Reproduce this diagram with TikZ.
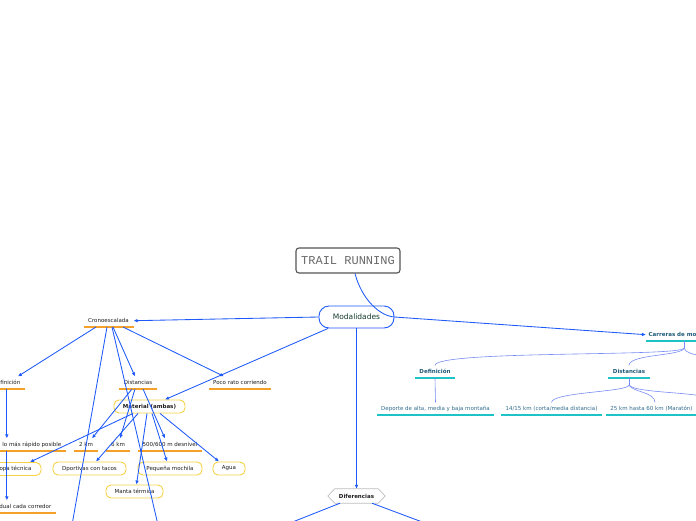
\documentclass[tikz,border=0pt]{standalone}
\usepackage{fontspec}
\setmainfont{DejaVu Sans}
\newfontfamily\trailmono{Liberation Mono}
\usetikzlibrary{arrows.meta,calc}
\definecolor{linkblue}{RGB}{30,90,250}
\definecolor{ulorange}{RGB}{245,160,40}
\definecolor{ulteal}{RGB}{30,195,200}
\definecolor{boxyellow}{RGB}{245,210,70}
\definecolor{rtext}{RGB}{30,90,120}
\definecolor{rleaf}{RGB}{50,110,140}
\definecolor{peri}{RGB}{120,140,245}
\definecolor{modgreen}{RGB}{20,60,45}
\definecolor{trailgray}{RGB}{85,85,85}
\definecolor{trailtext}{RGB}{105,105,105}
\definecolor{hexgray}{RGB}{190,190,190}
\definecolor{txt}{RGB}{30,30,30}
\tikzset{
 lab/.style={font=\fontsize{5.5}{6.5}\selectfont, text=txt, inner xsep=4.5pt, inner ysep=3.5pt, text height=4.1pt, text depth=1.1pt, anchor=south},
 ulo/.style={lab, append after command={(\tikzlastnode.south west) edge[draw=ulorange, line width=1.6pt] (\tikzlastnode.south east)}},
 ult/.style={lab, append after command={(\tikzlastnode.south west) edge[draw=ulteal, line width=1.6pt] (\tikzlastnode.south east)}},
 rhead/.style={ult, font=\fontsize{5.5}{6.5}\selectfont\bfseries, text=rtext},
 rleafst/.style={ult, text=rleaf},
 ybox/.style={draw=boxyellow, line width=0.9pt, rounded corners=5pt, minimum height=13pt, font=\fontsize{5.5}{6.5}\selectfont, text=txt, inner sep=0pt},
 arr/.style={draw=linkblue, line width=0.85pt, -{Latex[length=4pt,width=3.6pt]}},
 plain/.style={draw=linkblue, line width=0.85pt},
 soft/.style={draw=peri, line width=0.6pt},
}
\begin{document}
\begin{tikzpicture}[x=1pt,y=-1pt]
\useasboundingbox (0,0) rectangle (696,520);
\clip (0,0) rectangle (696,520);
\fill[white] (0,0) rectangle (696,520);

% central nodes
\node[draw=trailgray, line width=1.1pt, rounded corners=3pt, minimum width=104pt, minimum height=25pt, inner sep=0pt, font=\trailmono\fontsize{12}{14}\selectfont, text=trailtext] (trail) at (348,260.5) {TRAIL RUNNING};
\node[draw=linkblue, line width=0.9pt, rounded corners=10pt, minimum width=75pt, minimum height=22pt, inner sep=0pt, font=\fontsize{7.5}{9}\selectfont, text=modgreen] (mod) at (356.5,317) {Modalidades};

% left branch
\node[ulo] (cron) at (108.5,327) {Cronoescalada};
\node[ulo, anchor=south east] (defL) at (25,389) {finición};
\node[ulo] (dist) at (138,389) {Distancias};
\node[ulo] (poco) at (240,389) {Poco rato corriendo};
\node[ulo, anchor=south east] (lomas) at (66,451) {lo más rápido posible};
\node[ulo] (km2) at (86,451) {2 km};
\node[ulo] (km6) at (118,451) {6 km};
\node[ulo] (desn) at (170,451) {500/600 m desnivel};
\node[ulo, anchor=south east] (dual) at (56,513) {dual cada corredor};

\node[ybox, minimum width=71pt, font=\fontsize{5.5}{6.5}\selectfont\bfseries] (mat) at (149.5,406.5) {Material (ambas)};
\node[ybox, minimum width=51pt] (ropa) at (15.5,469) {opa técnica};
\node[ybox, minimum width=73pt] (dport) at (89.5,468.5) {Dportivas con tacos};
\node[ybox, minimum width=64pt] (peq) at (170,468.5) {Pequeña mochila};
\node[ybox, minimum width=32pt] (agua) at (229,468.5) {Agua};
\node[ybox, minimum width=57pt] (manta) at (134.5,491.5) {Manta térmica};

% Diferencias
\node[font=\fontsize{5.5}{6.5}\selectfont\bfseries, text=txt, minimum width=57pt, minimum height=14pt, inner sep=0pt] (dif) at (356.5,496) {Diferencias};
\draw[hexgray, line width=0.7pt] (dif.west) -- ([xshift=7pt]dif.north west) -- ([xshift=-7pt]dif.north east) -- (dif.east) -- ([xshift=-7pt]dif.south east) -- ([xshift=7pt]dif.south west) -- cycle;

% right branch
\node[rhead, anchor=south west, inner xsep=2.5pt] (carr) at (646,341) {Carreras de mo};
\node[rhead] (defR) at (435,378) {Definición};
\node[rhead] (distR) at (629,378) {Distancias};
\node[rleafst] (dep) at (435.5,415) {Deporte de alta, media y baja montaña};
\node[rleafst] (k1415) at (551.5,415) {14/15 km (corta/media distancia)};
\node[rleafst] (k25) at (651.5,415) {25 km hasta 60 km (Maratón)};

% free ends
\coordinate (offA) at (72,525);
\coordinate (offB) at (158,525);
\coordinate (offC) at (290,523);
\coordinate (offD) at (425,523);
\coordinate (offE) at (702,356);
\coordinate (offF) at (702,396);

% connectors
\draw[plain] ([xshift=7pt]trail.south) .. controls (362,300) and (380,316) .. (mod.east);
\draw[arr] (mod.west) -- (cron.east);
\draw[arr] (mod.east) -- (carr.west);
\draw[arr] (mod.south) -- (dif.north);
\draw[arr] ([xshift=-28.5pt]mod.south) -- ([xshift=15.5pt]mat.north);

\draw[arr] ([xshift=-12.5pt]cron.south) -- ([xshift=7.5pt]defL.north);
\draw[arr] ([xshift=4.5pt]cron.south) -- ([xshift=-3pt]dist.north);
\draw[arr] ([xshift=14.5pt]cron.south) -- ([xshift=-16pt]poco.north);
\draw[plain] ([xshift=-1.5pt]cron.south) -- (offA);
\draw[plain] ([xshift=3.5pt]cron.south) -- (offB);

\draw[arr] ($(defL.south)+(-3.5,0)$) -- ($(defL.south |- lomas.north)+(-3.5,0)$);
\draw[arr] ($(defL.south |- lomas.south)+(-3.5,0)$) -- ($(defL.south |- dual.north)+(-3.5,0)$);

\draw[arr] ([xshift=-6pt]dist.south) -- ([xshift=6pt]km2.north);
\draw[arr] ([xshift=-3pt]dist.south) -- ([xshift=2pt]km6.north);
\draw[arr] ([xshift=5pt]dist.south) -- ([xshift=-5pt]desn.north);

\draw[arr] ([xshift=-16.5pt]mat.south) -- ([xshift=14.5pt]ropa.north);
\draw[arr] ([xshift=-11.5pt]mat.south) -- ([xshift=6.5pt]dport.north);
\draw[arr] ([xshift=-2.5pt]mat.south) -- ([xshift=2pt]manta.north);
\draw[arr] ([xshift=2.5pt]mat.south) -- ([xshift=-3pt]peq.north);
\draw[arr] ([xshift=10.5pt]mat.south) -- ([xshift=-10pt]agua.north);

\draw[plain] ([xshift=-16.5pt]dif.south) -- (offC);
\draw[plain] ([xshift=15.5pt]dif.south) -- (offD);

\draw[soft] ([xshift=38pt]carr.south west) -- ++(0,7) coordinate (cj);
\draw[soft] (cj) .. controls (684,357) and (436,350) .. (defR.north);
\draw[soft] (cj) .. controls (683,356) and (629,354) .. (distR.north);
\draw[soft] (cj) .. controls (686,353) and (692,354) .. (offE);
\draw[soft] (defR.south) -- (dep.north);
\draw[soft] (distR.south) -- ++(0,7) coordinate (dj);
\draw[soft] (dj) .. controls (629,392) and (552,392) .. (k1415.north);
\draw[soft] (dj) .. controls (632,392) and (655,392) .. ([xshift=3.5pt]k25.north);
\draw[soft] (dj) .. controls (634,392) and (680,392) .. (offF);
\end{tikzpicture}
\end{document}
